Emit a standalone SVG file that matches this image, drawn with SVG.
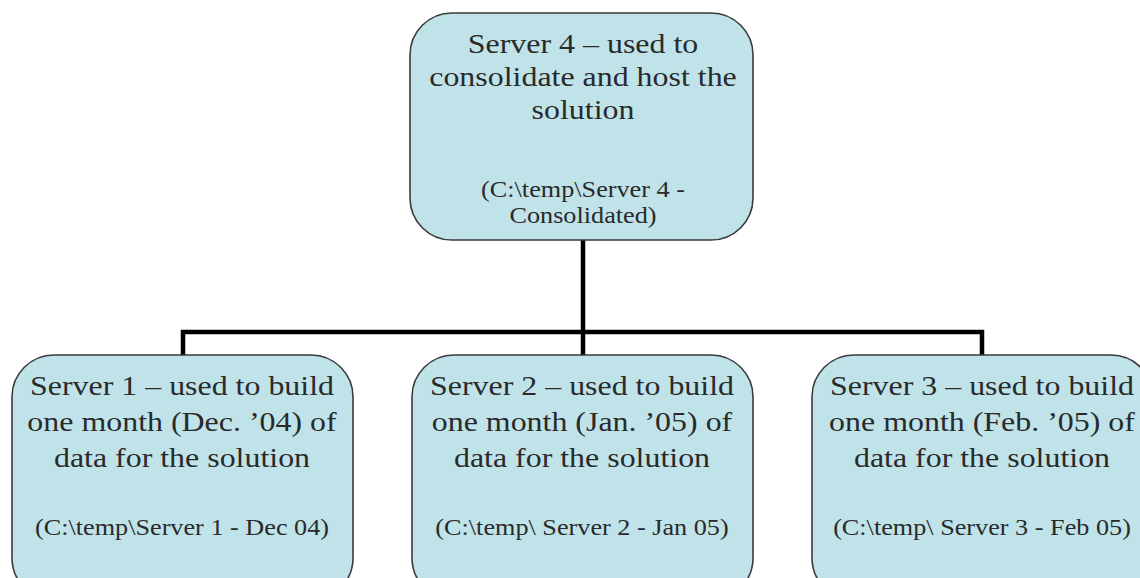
<svg xmlns="http://www.w3.org/2000/svg" width="1140" height="578" viewBox="0 0 1140 578">
  <style>
    .box { fill: #c0e3ea; stroke: #3a3a3a; stroke-width: 1.6; }
    .main { font-family: "Liberation Serif", "Times New Roman", serif; font-size: 28px; fill: #2a2a2a; text-anchor: middle; }
    .path { font-family: "Liberation Serif", "Times New Roman", serif; font-size: 23px; fill: #2a2a2a; text-anchor: middle; }
    .link { fill: none; stroke: #000; stroke-width: 4.5; stroke-linejoin: miter; }
  </style>
  <rect width="1140" height="578" fill="#ffffff"/>

  <!-- tree connectors -->
  <g id="connectors">
    <path class="link" d="M583 240 V355"/>
    <path class="link" d="M183 355 V332 H982 V355"/>
  </g>

  <!-- labels are set in a slightly widened serif: each label block is stretched horizontally around its centre -->
  <g id="server4">
    <rect class="box" x="410" y="13" width="343" height="227" rx="42" ry="42"/>
    <g transform="translate(583,0) scale(1.14,1)">
      <text class="main" x="0" y="53">Server 4 – used to</text>
      <text class="main" x="0" y="86">consolidate and host the</text>
      <text class="main" x="0" y="119">solution</text>
      <text class="path" x="0" y="197">(C:\temp\Server 4 -</text>
      <text class="path" x="0" y="223">Consolidated)</text>
    </g>
  </g>

  <g id="server1">
    <rect class="box" x="12" y="355" width="341" height="245" rx="42" ry="42"/>
    <g transform="translate(182,0) scale(1.14,1)">
      <text class="main" x="0" y="395">Server 1 – used to build</text>
      <text class="main" x="0" y="431">one month (Dec. ’04) of</text>
      <text class="main" x="0" y="467">data for the solution</text>
      <text class="path" x="0" y="535">(C:\temp\Server 1 - Dec 04)</text>
    </g>
  </g>

  <g id="server2">
    <rect class="box" x="412" y="355" width="341" height="245" rx="42" ry="42"/>
    <g transform="translate(582,0) scale(1.14,1)">
      <text class="main" x="0" y="395">Server 2 – used to build</text>
      <text class="main" x="0" y="431">one month (Jan. ’05) of</text>
      <text class="main" x="0" y="467">data for the solution</text>
      <text class="path" x="0" y="535">(C:\temp\ Server 2 - Jan 05)</text>
    </g>
  </g>

  <g id="server3">
    <rect class="box" x="812" y="355" width="341" height="245" rx="42" ry="42"/>
    <g transform="translate(982,0) scale(1.14,1)">
      <text class="main" x="0" y="395">Server 3 – used to build</text>
      <text class="main" x="0" y="431">one month (Feb. ’05) of</text>
      <text class="main" x="0" y="467">data for the solution</text>
      <text class="path" x="0" y="535">(C:\temp\ Server 3 - Feb 05)</text>
    </g>
  </g>
</svg>
